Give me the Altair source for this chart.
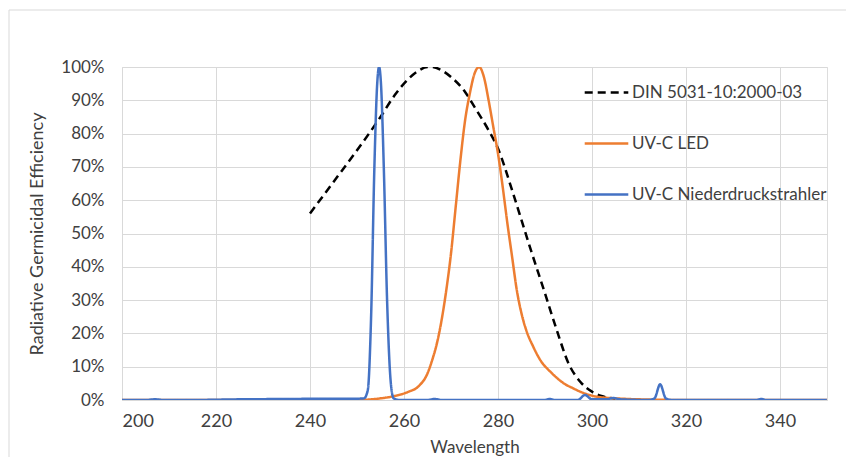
import altair as alt
import pandas as pd

NAMES = ["DIN 5031-10:2000-03", "UV-C LED", "UV-C Niederdruckstrahler"]
COLORS = ["#000000", "#ED7D31", "#4472C4"]

din_wl = [240, 245, 250, 255, 258, 261, 263, 265, 266, 268, 270, 273, 275, 278, 280,
          283, 285, 287, 290, 292.5, 295, 297.5, 300, 302, 305]
din_val = [56, 65.5, 75, 85, 91.5, 96.5, 98.8, 100, 100, 99, 97, 92.5, 88, 81, 75.5,
           63, 54, 45, 32, 21, 11, 5.5, 2.5, 1.2, 0.4]

led_wl = [200, 250, 252, 255, 258, 261, 263, 265, 266, 267, 268, 269, 270, 271, 272,
          273, 274, 275, 276, 277, 278, 279, 280, 281, 282, 283, 284, 285, 286, 287.5,
          289, 291.5, 294, 296, 298, 301, 305, 310, 320, 350]
led_val = [0, 0, 0.1, 0.5, 1.2, 2.5, 4, 8, 12, 17, 24, 33, 44, 58, 72,
           84, 92, 98, 100, 97, 90, 82, 74, 64, 53, 43, 33, 26, 21, 16,
           12, 8, 5, 3.5, 2.2, 1, 0.5, 0.2, 0, 0]

lp_wl = [200, 205, 207, 209, 215, 225, 235, 245, 250, 251.5, 252.3, 253, 253.7, 254.3,
         254.7, 255.1, 255.7, 256.4, 257.2, 257.8, 259, 265, 266.5, 268, 290, 291, 292,
         297, 298.5, 300, 303, 304.5, 306, 312, 313.3, 314.5, 315.7, 317, 335, 336, 337, 350]
lp_val = [0, 0, 0.2, 0, 0, 0.2, 0.3, 0.4, 0.4, 0.5, 3, 25, 70, 95,
          100, 95, 70, 30, 5, 0.5, 0, 0, 0.3, 0, 0, 0.3, 0,
          0, 1.5, 0.2, 0.2, 0.6, 0.2, 0, 0.5, 4.7, 0.5, 0, 0, 0.3, 0, 0]

x_ticks = [200, 220, 240, 260, 280, 300, 320, 340]
y_ticks = [0, 0.1, 0.2, 0.3, 0.4, 0.5, 0.6, 0.7, 0.8, 0.9, 1.0]

rows = []
for name, wls, vals in [(NAMES[0], din_wl, din_val), (NAMES[1], led_wl, led_val),
                        (NAMES[2], lp_wl, lp_val)]:
    for w, v in zip(wls, vals):
        rows.append({"series": name, "wl": w, "val": v / 100.0})
df = pd.DataFrame(rows)
df["order"] = df["series"].map({n: i for i, n in enumerate(NAMES)})

W, H = 705, 333
FONT = "Lato"
TXT = "#404040"

legend_opts = dict(title=None, orient="none", legendX=461, legendY=2,
                   symbolType="stroke", symbolSize=1900, symbolStrokeWidth=2.5,
                   labelFontSize=17, labelFont=FONT, labelColor=TXT, rowPadding=19,
                   labelOffset=2, padding=0, symbolOffset=0, labelLimit=400)

frame = alt.Chart(pd.DataFrame({"a": [0]})).mark_rect(
    fill=None, stroke="#d9d9d9", strokeWidth=1
).encode(
    x=alt.value(-113), x2=alt.value(W + 40), y=alt.value(-57), y2=alt.value(H + 100)
)

lines = alt.Chart(df).mark_line(interpolate="monotone", strokeWidth=2.5, clip=True).encode(
    x=alt.X("wl:Q", title="Wavelength",
            scale=alt.Scale(domain=[200, 350], nice=False, zero=False),
            axis=alt.Axis(values=x_ticks, grid=True, gridColor="#d9d9d9", ticks=False,
                          domain=True, domainColor="#d9d9d9", labelFontSize=18,
                          labelPadding=12, labelColor=TXT, titleFontSize=17,
                          titleFontWeight="normal", titleColor=TXT,
                          titleY=56, titleBaseline="bottom",
                          labelFont=FONT, titleFont=FONT)),
    y=alt.Y("val:Q", title="Radiative Germicidal Efficiency",
            scale=alt.Scale(domain=[0, 1], nice=False),
            axis=alt.Axis(values=y_ticks, format=".0%", grid=True, gridColor="#d9d9d9",
                          ticks=False, domain=False, labelFontSize=17, labelPadding=18,
                          labelColor=TXT, titleFontSize=18, titleFontWeight="normal",
                          titleColor=TXT, titlePadding=14, labelFont=FONT,
                          titleFont=FONT)),
    color=alt.Color("series:N", scale=alt.Scale(domain=NAMES, range=COLORS),
                    legend=alt.Legend(**legend_opts)),
    strokeDash=alt.StrokeDash("series:N",
                              scale=alt.Scale(domain=NAMES, range=[[8, 5], [1, 0], [1, 0]]),
                              legend=alt.Legend(**legend_opts)),
    order=alt.Order("order:Q"),
    detail="series:N",
)

chart = alt.layer(frame, lines).properties(
    width=W, height=H,
    autosize=alt.AutoSizeParams(type="none"),
    padding={"left": 114, "top": 59, "right": 19, "bottom": 57},
).configure_view(stroke=None).configure(background="white")

chart.save("out.html", embed_options={"renderer": "svg", "actions": False})
